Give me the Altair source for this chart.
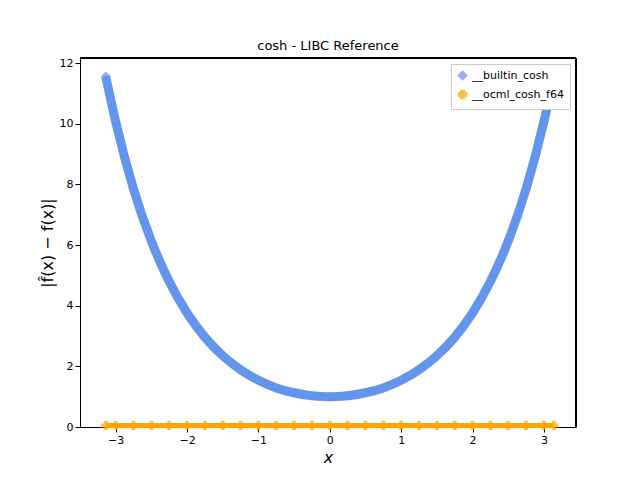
import altair as alt
import pandas as pd

xs = [-3.14, -3.0, -2.75, -2.5, -2.25, -2.0, -1.75, -1.5, -1.25, -1.0, -0.75, -0.5, -0.25, 0.0,
      0.25, 0.5, 0.75, 1.0, 1.25, 1.5, 1.75, 2.0, 2.25, 2.5, 2.75, 3.0, 3.14]
builtin = [11.57, 10.07, 7.85, 6.13, 4.80, 3.76, 2.96, 2.35, 1.89, 1.54, 1.29, 1.13, 1.03, 1.0,
           1.03, 1.13, 1.29, 1.54, 1.89, 2.35, 2.96, 3.76, 4.80, 6.13, 7.85, 10.07, 11.57]
ocml = [0.05] * len(xs)

df = pd.concat([
    pd.DataFrame({"x": xs, "y": builtin, "s": "__builtin_cosh"}),
    pd.DataFrame({"x": xs, "y": ocml, "s": "__ocml_cosh_f64"}),
])

names = ["__builtin_cosh", "__ocml_cosh_f64"]
leg = alt.Legend(title=None, orient="top-right", labelFontSize=11,
                 symbolSize=60, strokeColor="#cccccc", padding=6, offset=6,
                 fillColor="white", symbolStrokeWidth=2)
cscale = alt.Scale(domain=names, range=["#6495ed", "#ffa500"])
col = alt.Color("s:N", scale=cscale, legend=leg)
shp = alt.Shape("s:N", scale=alt.Scale(domain=names, range=["diamond", "cross"]), legend=leg)

X = alt.X("x:Q", scale=alt.Scale(domain=[-3.5, 3.45], nice=False, zero=False),
          axis=alt.Axis(values=[-3, -2, -1, 0, 1, 2, 3], grid=False, title="x",
                        titleFontSize=16, titleFontStyle="italic", titleFontWeight="normal",
                        labelFontSize=11, tickColor="black", domainColor="black", labelColor="black"))
Y = alt.Y("y:Q", scale=alt.Scale(domain=[0, 12.17], nice=False),
          axis=alt.Axis(values=[0, 2, 4, 6, 8, 10, 12], grid=False, title="|f̂(x) − f(x)|",
                        titleFontSize=16, titleFontWeight="normal", labelFontSize=11,
                        tickColor="black", domainColor="black", labelColor="black"))

base = alt.Chart(df)
line1 = base.transform_filter(alt.datum.s == names[0]).mark_line(strokeWidth=9, interpolate="monotone").encode(x=X, y=Y, color=col)
line2 = base.transform_filter(alt.datum.s == names[1]).mark_line(strokeWidth=5).encode(x=X, y=Y, color=col)
pts = base.mark_point(filled=True, size=90).encode(x=X, y=Y, color=col, shape=shp)
top = alt.Chart(df).mark_rule(color="black").encode(x=alt.value(0), x2=alt.value(496), y=alt.value(0))
right = alt.Chart(df).mark_rule(color="black").encode(x=alt.value(496), y=alt.value(0), y2=alt.value(369))

chart = alt.layer(line1, line2, pts, top, right).properties(
    width=496, height=369, padding={"left": 72, "top": 50, "right": 56, "bottom": 45},
    autosize=alt.AutoSizeParams(type="none"),
    title=alt.TitleParams("cosh - LIBC Reference", fontSize=13, fontWeight="normal"),
).configure(font="DejaVu Sans")

chart.save("out.html", embed_options={"renderer": "svg", "actions": False})
